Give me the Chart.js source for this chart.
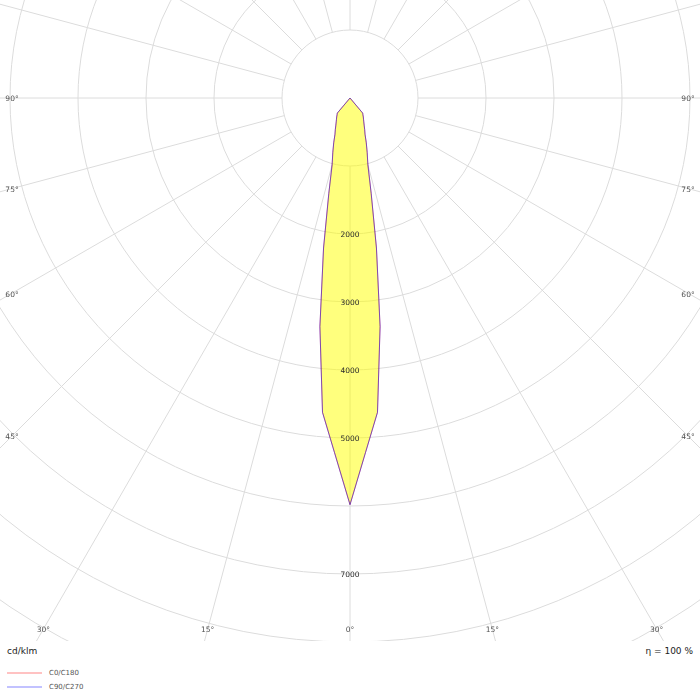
<!DOCTYPE html>
<html><head><meta charset="utf-8">
<script src="https://cdn.jsdelivr.net/npm/chart.js@4"></script>
<style>
html,body{margin:0;padding:0;background:#fff;width:700px;height:700px;overflow:hidden;font-family:"DejaVu Sans",sans-serif;}
#wrap{position:absolute;left:0;top:0;width:700px;height:641px;}
.t{position:absolute;white-space:nowrap;line-height:9px;font-size:9px;color:#222;}
#unit{left:7px;top:647px;}
#eta{right:7px;top:647px;}
.legline{position:absolute;left:7px;width:35px;height:2px;}
.legtext{position:absolute;left:49px;font-size:7px;line-height:8px;color:#555;white-space:nowrap;}
</style></head><body>
<div id="wrap"><canvas id="c" width="700" height="641"></canvas></div>
<div class="t" id="unit">cd/klm</div>
<div class="t" id="eta">η = 100 %</div>
<div id="legend"></div>
<script>
// gamma angles (0° = straight down), 2.5° steps
const gamma = [0,2.5,5,7.5,10,12.5,15,17.5,20,22.5,25,27.5,30,32.5,35,37.5,40,42.5,45,47.5,50,52.5,55,57.5,60,62.5,65,67.5,70,72.5,75,77.5,80,82.5,85,87.5,90,92.5,95,97.5,100,102.5,105,107.5,110,112.5,115,117.5,120,122.5,125,127.5,130,132.5,135,137.5,140,142.5,145,147.5,150,152.5,155,157.5,160,162.5,165,167.5,170,172.5,175,177.5,180];
// luminous intensity, cd/klm
const c0c180 = [5980,5220,4640,3390,2240,1440,1015,840,700,577,510,450,405,370,341,312,290,0,0,0,0,0,0,0,0,0,0,0,0,0,0,0,0,0,0,0,0,0,0,0,0,0,0,0,0,0,0,0,0,0,0,0,0,0,0,0,0,0,0,0,0,0,0,0,0,0,0,0,0,0,0,0,0];
const c90c270 = [5980,5220,4640,3390,2240,1440,1015,840,700,577,510,450,405,370,341,312,290,0,0,0,0,0,0,0,0,0,0,0,0,0,0,0,0,0,0,0,0,0,0,0,0,0,0,0,0,0,0,0,0,0,0,0,0,0,0,0,0,0,0,0,0,0,0,0,0,0,0,0,0,0,0,0,0];
const seriesNames = ['C0/C180','C90/C270'];
const seriesLegendColors = ['#ffc2c2','#c2c2ff'];
const spokeAngles = [0,15,30,45,60,75,90];
const tickValues = [2000,3000,4000,5000,7000];
const ringStep = 1000;
const ringMax = 10000;

// radar table: index 0 at top (gamma 180), clockwise
const step = 2.5;
const thetaLabels = [];
for (let th = 0; th < 360; th += step) thetaLabels.push(th);
function planeTable(values) {
  return thetaLabels.map(th => {
    const g = th <= 180 ? 180 - th : th - 180;
    return values[gamma.indexOf(g)];
  });
}

// legend (HTML)
const leg = document.getElementById('legend');
seriesNames.forEach((n, i) => {
  const y = 672 + i * 14;
  const l = document.createElement('div'); l.className = 'legline';
  l.style.top = y + 'px'; l.style.background = seriesLegendColors[i]; leg.appendChild(l);
  const t = document.createElement('div'); t.className = 'legtext';
  t.style.top = (y - 3) + 'px'; t.textContent = n; leg.appendChild(t);
});

const center = {x: 350, y: 98};
const pxPerRing = 68;

const polarLabels = {
  id: 'polarLabels',
  afterDraw(chart) {
    const s = chart.scales.r, ctx = chart.ctx;
    const cx = s.xCenter, cy = s.yCenter;
    ctx.save();
    ctx.font = '7.5px "DejaVu Sans"';
    ctx.textAlign = 'center'; ctx.textBaseline = 'middle';
    ctx.fillStyle = '#2a2a2a';
    tickValues.forEach(v => ctx.fillText(String(v), cx, cy + s.getDistanceFromCenterForValue(v) + 1));
    const inset = 12;
    const left = inset, right = chart.width - inset, bottom = chart.height - inset;
    ctx.fillStyle = '#505050';
    spokeAngles.forEach(g => {
      [-1, 1].forEach(side => {
        if (g === 0 && side === 1) return;
        const rad = g * Math.PI / 180;
        const dx = Math.sin(rad) * side, dy = Math.cos(rad);
        let t = Infinity;
        if (Math.abs(dx) > 1e-9) t = Math.min(t, ((side < 0 ? left : right) - cx) / dx);
        if (dy > 1e-9) t = Math.min(t, (bottom - cy) / dy);
        const x = cx + dx * t, y = cy + dy * t + 1.5;
        ctx.fillText(g + '°', x, y);
      });
    });
    ctx.restore();
  }
};

new Chart(document.getElementById('c'), {
  type: 'radar',
  data: {
    labels: thetaLabels,
    datasets: [
      {label: seriesNames[0], data: planeTable(c0c180), order: 1,
       borderColor: 'rgba(255,0,0,0.5)', backgroundColor: 'rgba(255,255,0,0.3)',
       fill: true, borderWidth: 1, pointRadius: 0, tension: 0},
      {label: seriesNames[1], data: planeTable(c90c270), order: 0,
       borderColor: 'rgba(0,0,255,0.5)', backgroundColor: 'rgba(255,255,0,0.3)',
       fill: true, borderWidth: 1, pointRadius: 0, tension: 0}
    ]
  },
  options: {
    responsive: false,
    animation: false,
    layout: {padding: 0},
    plugins: {legend: {display: false}, tooltip: {enabled: false}},
    elements: {line: {borderJoinStyle: 'miter'}},
    scales: {
      r: {
        min: 0, max: ringMax, startAngle: 0,
        ticks: {display: false, stepSize: ringStep},
        pointLabels: {display: false},
        grid: {circular: true, color: '#dcdcdc', lineWidth: 1},
        angleLines: {
          color: '#dcdcdc',
          lineWidth: c => (c.index % 6 === 0 ? 1 : 0),
          borderDash: c => [0, c.chart.scales.r.getDistanceFromCenterForValue(ringStep), 3000]
        },
        afterFit(s) {
          s.xCenter = center.x; s.yCenter = center.y;
          s.drawingArea = pxPerRing * ringMax / ringStep;
        }
      }
    }
  },
  plugins: [polarLabels]
});
</script>
</body></html>
